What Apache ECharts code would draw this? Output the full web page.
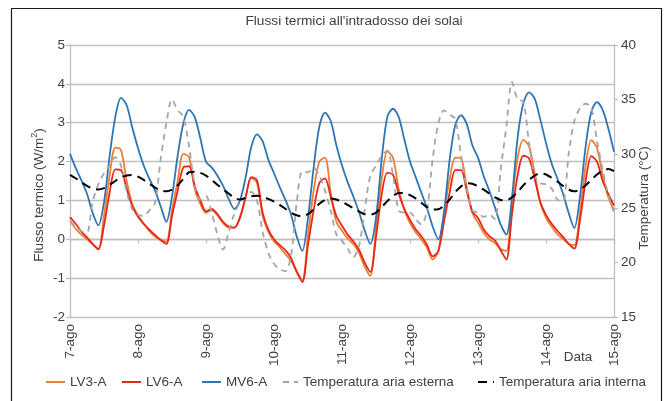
<!DOCTYPE html>
<html>
<head>
<meta charset="utf-8">
<title>Flussi termici all'intradosso dei solai</title>
<script src="https://cdn.jsdelivr.net/npm/echarts@6/dist/echarts.min.js"></script>
<style>
  html, body { margin: 0; padding: 0; background: #ffffff; }
  #chart { width: 670px; height: 401px; }
</style>
</head>
<body>
<div id="chart"></div>
<script>
// Sampling step of the records, in hours (first sample: 7 August, 00:00)
const STEP_H = 2;

// Day labels on the time axis (one every 24 h)
const dayLabels = ['7-ago', '8-ago', '9-ago', '10-ago', '11-ago', '12-ago', '13-ago', '14-ago', '15-ago'];

// Heat flux at the ceiling underside, W/m2 (left axis)
const lv3A = [
  0.48, 0.27, 0.12, 0.0, -0.13, -0.24, 0.61, 1.64, 2.36, 2.3, 1.5, 0.9,
  0.62, 0.4, 0.21, 0.07, -0.02, -0.06, 0.75, 1.5, 2.2, 2.12, 1.3, 0.91,
  0.68, 0.75, 0.62, 0.42, 0.3, 0.3, 0.55, 1.1, 1.58, 1.45, 0.6, 0.2,
  -0.05, -0.2, -0.38, -0.55, -0.82, -1.05, 0.1, 1.25, 2.0, 2.1, 1.2, 0.45,
  0.22, 0.02, -0.12, -0.35, -0.7, -0.94, 0.3, 1.55, 2.26, 2.1, 1.3, 0.75,
  0.42, 0.18, 0.0, -0.22, -0.52, -0.3, 0.65, 1.55, 2.1, 2.08, 1.35, 0.68,
  0.43, 0.17, 0.0, -0.1, -0.25, -0.3, 0.95, 2.1, 2.56, 2.4, 1.7, 0.95,
  0.55, 0.33, 0.13, 0.01, -0.12, -0.15, 0.7, 1.9, 2.55, 2.35, 1.65, 1.08,
  0.75
];
const lv6A = [
  0.57, 0.4, 0.2, 0.05, -0.12, -0.26, 0.35, 1.21, 1.8, 1.78, 1.3, 0.85,
  0.58, 0.4, 0.25, 0.11, -0.02, -0.12, 0.6, 1.25, 1.85, 1.88, 1.38, 1.0,
  0.72, 0.78, 0.65, 0.45, 0.33, 0.3, 0.57, 1.08, 1.6, 1.52, 0.68, 0.25,
  0.0, -0.15, -0.28, -0.48, -0.84, -1.1, -0.15, 0.75, 1.45, 1.57, 1.1, 0.6,
  0.35, 0.12, -0.05, -0.27, -0.6, -0.84, 0.05, 1.15, 1.71, 1.66, 1.18, 0.78,
  0.5, 0.26, 0.08, -0.14, -0.44, -0.3, 0.45, 1.2, 1.78, 1.78, 1.25, 0.72,
  0.55, 0.26, 0.08, -0.03, -0.28, -0.52, 0.65, 1.65, 2.15, 2.08, 1.55, 0.95,
  0.63, 0.4, 0.22, 0.06, -0.12, -0.24, 0.5, 1.5, 2.14, 2.0, 1.5, 1.17,
  0.87
];
const mv6A = [
  2.2, 1.84, 1.52, 1.17, 0.68, 0.36, 0.95, 2.15, 3.15, 3.64, 3.45, 2.87,
  2.35, 1.9, 1.56, 1.25, 0.85, 0.45, 1.1, 2.15, 2.98, 3.33, 3.15, 2.6,
  2.0, 1.85, 1.64, 1.38, 1.04, 0.78, 1.0, 1.6, 2.38, 2.7, 2.52, 2.05,
  1.7, 1.35, 1.02, 0.64, 0.08, -0.3, 0.55, 1.85, 2.9, 3.26, 3.05, 2.42,
  1.9, 1.47, 1.1, 0.7, 0.23, -0.12, 0.55, 2.05, 3.15, 3.36, 3.15, 2.57,
  2.0, 1.6, 1.2, 0.8, 0.33, 0.0, 0.7, 2.05, 2.95, 3.19, 2.97, 2.42,
  2.1, 1.63, 1.25, 0.82, 0.38, 0.12, 1.08, 2.63, 3.5, 3.78, 3.62, 3.08,
  2.48, 1.95, 1.57, 1.18, 0.68, 0.29, 1.1, 2.4, 3.28, 3.53, 3.33, 2.85,
  2.25
];

// Air temperatures, degrees C (right axis)
const tempEsterna = [
  23.8, 23.3, 22.9, 22.8, 25.6, 27.2, 28.2, 28.9, 29.7, 28.9, 26.5, 24.9,
  24.4, 24.3, 24.8, 25.5, 29.5, 32.8, 35.0, 34.0, 33.4, 30.7, 27.2, 25.8,
  26.1, 24.6, 22.6, 21.2, 22.8, 24.5, 25.5, 26.0, 26.5, 25.7, 22.8, 20.9,
  19.9, 19.4, 19.2, 20.6, 25.5, 28.4, 28.3, 28.7, 28.0, 26.6, 24.8, 22.6,
  22.0, 21.3, 20.5, 21.5, 24.8, 28.0, 28.9, 29.8, 30.3, 28.0, 24.8, 24.6,
  24.6, 24.0, 23.5, 24.8, 29.5, 32.8, 34.0, 33.6, 33.2, 29.8, 26.8, 24.8,
  24.6, 24.2, 24.4, 24.0, 28.5, 32.5, 36.6, 35.0, 34.8, 31.0, 28.0, 27.3,
  27.2, 26.8, 25.8, 25.6, 30.0, 33.0, 34.2, 34.6, 34.2, 31.2, 28.5, 26.2,
  24.6
];
const tempInterna = [
  28.07, 27.75, 27.4, 27.05, 26.8, 26.72, 26.85, 27.15, 27.5, 27.8, 28.0, 28.05,
  27.9, 27.6, 27.25, 26.9, 26.65, 26.55, 26.7, 27.1, 27.7, 28.3, 28.35, 28.25,
  28.0, 27.6, 27.15, 26.75, 26.35, 25.95, 25.8, 25.95, 26.1, 26.15, 26.05, 25.85,
  25.6, 25.3, 24.95, 24.6, 24.35, 24.25, 24.45, 24.9, 25.4, 25.75, 25.9, 25.8,
  25.6, 25.3, 25.0, 24.7, 24.45, 24.4, 24.6, 25.1, 25.65, 26.1, 26.4, 26.4,
  26.2, 25.9, 25.5, 25.1, 24.88, 24.9, 25.25, 25.8, 26.5, 27.0, 27.3, 27.25,
  27.0, 26.7, 26.35, 26.0, 25.75, 25.72, 26.0, 26.5, 27.1, 27.6, 28.0, 28.2,
  28.1, 27.8, 27.45, 27.05, 26.7, 26.55, 26.7, 27.1, 27.6, 28.1, 28.45, 28.6,
  28.4
];

const FONT = "'Liberation Sans', Arial, sans-serif";
const TXT = '#404040';
const GRID = '#BFBFBF';
const FS = 13.5;

// pair every sample with its time in hours
function toPoints(values) {
  return values.map(function (v, i) { return [i * STEP_H, v]; });
}

function lineSeries(name, values, color, yIndex, width, dash) {
  return {
    name: name,
    type: 'line',
    xAxisIndex: 0,
    yAxisIndex: yIndex,
    data: toPoints(values),
    showSymbol: false,
    symbol: 'none',
    smooth: 0.3,
    lineStyle: { color: color, width: width, type: dash || 'solid', cap: 'butt' },
    itemStyle: { color: color },
    emphasis: { disabled: true },
    z: 2
  };
}

// one legend block per series, so each entry sits at its own place;
// the marker symbol is hidden and only the line sample is kept
function legendItem(name, left, iconWidth) {
  return {
    data: [name],
    left: left,
    top: 375,
    itemWidth: iconWidth,
    itemHeight: 14,
    padding: 0,
    selectedMode: false,
    itemStyle: { opacity: 0, borderWidth: 0 },
    textStyle: { fontFamily: FONT, fontSize: FS, color: TXT }
  };
}

const chart = echarts.init(document.getElementById('chart'), null, { renderer: 'canvas' });

chart.setOption({
  animation: false,
  backgroundColor: '#ffffff',
  grid: { left: 70, right: 56, top: 45, bottom: 84, containLabel: false },
  xAxis: [
    {
      type: 'value',
      min: 0,
      max: (dayLabels.length - 1) * 24,
      interval: 24,
      position: 'bottom',
      axisLine: { show: false },
      axisTick: { show: false },
      splitLine: { show: false },
      axisLabel: {
        rotate: 90,
        margin: 7,
        color: TXT,
        fontFamily: FONT,
        fontSize: FS,
        formatter: function (v) { return dayLabels[Math.round(v / 24)]; }
      }
    },
    {
      // day ticks drawn on the zero line of the flux axis
      type: 'value',
      min: 0,
      max: (dayLabels.length - 1) * 24,
      interval: 24,
      position: 'bottom',
      axisLine: { show: true, onZero: true, onZeroAxisIndex: 0, lineStyle: { color: GRID, width: 1.3 } },
      axisTick: { show: true, inside: false, length: 4, lineStyle: { color: GRID, width: 1.3 } },
      axisLabel: { show: false },
      splitLine: { show: false }
    }
  ],
  yAxis: [
    {
      type: 'value',
      min: -2,
      max: 5,
      interval: 1,
      position: 'left',
      axisLine: { show: true, onZero: false, lineStyle: { color: GRID, width: 1.3 } },
      axisTick: { show: true, inside: false, length: 4, lineStyle: { color: GRID, width: 1.3 } },
      splitLine: { show: true, lineStyle: { color: GRID, width: 1.3 } },
      axisLabel: { margin: 5, color: TXT, fontFamily: FONT, fontSize: FS }
    },
    {
      type: 'value',
      min: 15,
      max: 40,
      interval: 5,
      position: 'right',
      axisLine: { show: true, onZero: false, lineStyle: { color: GRID, width: 1.3 } },
      axisTick: { show: true, inside: false, length: 4, lineStyle: { color: GRID, width: 1.3 } },
      splitLine: { show: false },
      axisLabel: { margin: 7, color: TXT, fontFamily: FONT, fontSize: FS }
    }
  ],
  legend: [
    legendItem('LV3-A', 45, 19),
    legendItem('LV6-A', 121, 19),
    legendItem('MV6-A', 201, 19),
    legendItem('Temperatura aria esterna', 282, 15),
    legendItem('Temperatura aria interna', 477, 16)
  ],
  series: [
    lineSeries('LV3-A', lv3A, '#ED7D31', 0, 1.8),
    lineSeries('LV6-A', lv6A, '#E8261C', 0, 1.8),
    lineSeries('MV6-A', mv6A, '#2E75B6', 0, 1.8),
    lineSeries('Temperatura aria esterna', tempEsterna, '#A5A5A5', 1, 1.8, [6, 5]),
    lineSeries('Temperatura aria interna', tempInterna, '#000000', 1, 2, [9, 6])
  ],
  graphic: [
    {
      type: 'rect',
      shape: { x: 11.5, y: 8.5, width: 650, height: 400 },
      style: { fill: null, stroke: '#1a1a1a', lineWidth: 1.2 },
      silent: true,
      z: -1
    },
    {
      type: 'text',
      x: 354,
      y: 21,
      style: {
        text: "Flussi termici all'intradosso dei solai",
        fontFamily: FONT, fontSize: 13.7, fill: TXT,
        align: 'center', verticalAlign: 'middle'
      }
    },
    {
      type: 'text',
      x: 39,
      y: 195,
      rotation: Math.PI / 2,
      style: {
        text: '{a|Flusso termico (W/m}{s|2}{a|)}',
        align: 'center', verticalAlign: 'middle',
        rich: {
          a: { fontFamily: FONT, fontSize: FS, fill: TXT, lineHeight: 18 },
          s: { fontFamily: FONT, fontSize: 9, fill: TXT, verticalAlign: 'top', lineHeight: 18 }
        }
      }
    },
    {
      type: 'text',
      x: 644,
      y: 198,
      rotation: Math.PI / 2,
      style: {
        text: 'Temperatura (°C)',
        fontFamily: FONT, fontSize: FS, fill: TXT,
        align: 'center', verticalAlign: 'middle'
      }
    },
    {
      type: 'text',
      x: 578,
      y: 357,
      style: {
        text: 'Data',
        fontFamily: FONT, fontSize: FS, fill: TXT,
        align: 'center', verticalAlign: 'middle'
      }
    }
  ]
});
</script>
</body>
</html>
